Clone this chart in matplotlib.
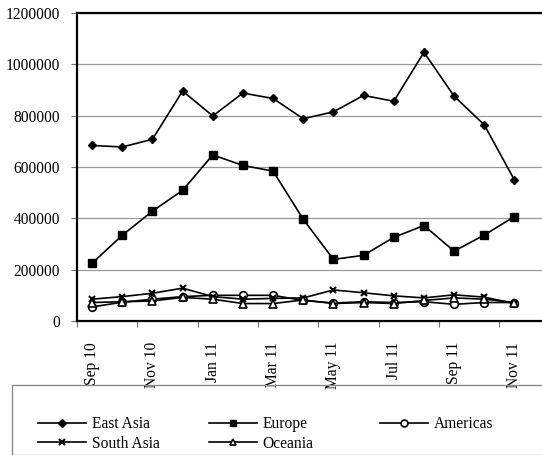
import matplotlib
matplotlib.use("Agg")
import matplotlib.pyplot as plt
from matplotlib.patches import Rectangle
import numpy as np

plt.rcParams['font.family'] = ['Liberation Serif', 'DejaVu Serif']

months = ["Sep 10", "Oct 10", "Nov 10", "Dec 10", "Jan 11", "Feb 11", "Mar 11",
          "Apr 11", "May 11", "Jun 11", "Jul 11", "Aug 11", "Sep 11", "Oct 11", "Nov 11"]

east_asia = [684000, 678000, 708000, 896000, 799000, 888000, 867000, 788000,
             815000, 879000, 856000, 1047000, 876000, 764000, 549000]
europe = [225000, 334000, 428000, 509000, 647000, 606000, 584000, 396000,
          240000, 256000, 326000, 372000, 272000, 335000, 407000]
americas = [55000, 73000, 85000, 95000, 100000, 100000, 100000, 80000,
            70000, 75000, 72000, 75000, 65000, 72000, 72000]
south_asia = [85000, 95000, 108000, 128000, 95000, 85000, 88000, 90000,
              121000, 110000, 98000, 90000, 102000, 93000, 68000]
oceania = [72000, 75000, 78000, 92000, 85000, 68000, 68000, 82000,
           68000, 72000, 68000, 80000, 90000, 85000, 72000]

y_ticks = [0, 200000, 400000, 600000, 800000, 1000000, 1200000]

W, H = 542, 455
fig = plt.figure(figsize=(W / 100, H / 100), dpi=100)
ax = fig.add_axes([77 / W, 1 - 321 / H, 1 - 77 / W + 0.002, (321 - 13) / H])

x = np.arange(len(months))
lw = 1.2
series = [
    ("East Asia", east_asia, dict(marker="D", ms=4.2, mfc="black", mec="black")),
    ("Europe", europe, dict(marker="s", ms=5.5, mfc="black", mec="black")),
    ("Americas", americas, dict(marker="o", ms=5.5, mfc="white", mec="black", mew=1.2)),
    ("South Asia", south_asia, dict(marker="x", ms=5, mec="black", mew=1.5)),
    ("Oceania", oceania, dict(marker="^", ms=5.5, mfc="white", mec="black", mew=1.2)),
]
handles = {}
for name, vals, style in series:
    h, = ax.plot(x, vals, color="black", lw=lw, label=name, zorder=3, clip_on=False, **style)
    handles[name] = h

ax.set_ylim(0, 1200000)
ax.set_xlim(-0.5, (W - 77) / 30.1 - 0.5)
ax.set_yticks(y_ticks)
ax.set_yticklabels([str(v) for v in y_ticks], fontsize=11.2)
ax.yaxis.grid(True, color="#9a9a9a", lw=0.9)
ax.set_axisbelow(True)
ax.tick_params(axis="y", direction="out", length=4, width=0.8, pad=8, color="#777777")

ax.set_xticks(x[::2])
ax.set_xticklabels(months[::2], rotation=90, fontsize=11.2)
ax.set_xticks(np.arange(-0.5, len(months), 2), minor=True)
ax.tick_params(axis="x", which="major", length=0, pad=15)
ax.tick_params(axis="x", which="minor", direction="out", length=4, width=0.8, color="#777777")

for side in ["left", "bottom", "top", "right"]:
    ax.spines[side].set_linewidth(1.6)
    ax.spines[side].set_color("black")

# legend frame
fig.patches.append(Rectangle((12 / W, 0), 1, (H - 385) / H, transform=fig.transFigure,
                             fill=False, edgecolor="#8a8a8a", lw=1.0))

columns = [["East Asia", "South Asia"], ["Europe", "Oceania"], ["Americas"]]
col_x = [38, 209, 380]
for cx, names in zip(col_x, columns):
    fig.legend([handles[n] for n in names], names,
               loc="upper left", bbox_to_anchor=(cx / W, 1 - 416 / H),
               frameon=False, fontsize=11.2, handlelength=3.1,
               handletextpad=0.35, labelspacing=0.25, borderpad=0,
               borderaxespad=0, markerscale=0.9)

fig.savefig("out.png", dpi=100)
